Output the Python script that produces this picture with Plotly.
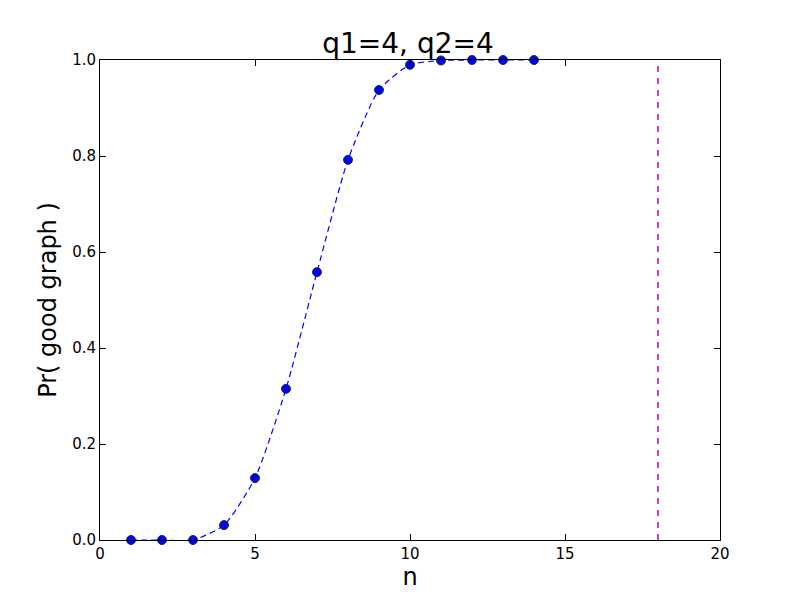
import plotly.graph_objects as go

n_values = [1, 2, 3, 4, 5, 6, 7, 8, 9, 10, 11, 12, 13, 14]
prob_values = [0.0, 0.0, 0.0, 0.031, 0.129, 0.315, 0.558, 0.792, 0.9375, 0.99, 0.999, 1.0, 1.0, 1.0]
threshold_n = 18
x_ticks = [0, 5, 10, 15, 20]
y_ticks = [0.0, 0.2, 0.4, 0.6, 0.8, 1.0]

fig = go.Figure()
fig.add_trace(go.Scatter(
    x=n_values, y=prob_values, mode="lines",
    line=dict(color="#0000ff", width=1.2, dash="6px,4px", shape="spline", smoothing=0.6),
    showlegend=False, hoverinfo="skip"))
fig.add_trace(go.Scatter(
    x=n_values, y=prob_values, mode="markers",
    marker=dict(color="#0000ff", size=9, line=dict(color="#1a3a1a", width=1)),
    showlegend=False, cliponaxis=False))
fig.add_trace(go.Scatter(
    x=[threshold_n, threshold_n], y=[0, 1], mode="lines",
    line=dict(color="#bf00bf", width=1.5, dash="6px,6px"),
    showlegend=False, hoverinfo="skip"))

axis_common = dict(
    showgrid=False, zeroline=False, showline=True, linecolor="black", linewidth=1,
    mirror="ticks", ticks="inside", ticklen=6, tickcolor="black", tickwidth=1,
    tickfont=dict(family="DejaVu Sans", size=15, color="black"),
)
fig.update_layout(
    width=800, height=600,
    margin=dict(l=92, r=88, t=52, b=68),
    paper_bgcolor="white", plot_bgcolor="white",
    title=dict(text="q1=4, q2=4", x=0.5, xanchor="center", y=0.942, yanchor="middle",
               font=dict(family="DejaVu Sans", size=28, color="black")),
    xaxis=dict(range=[0, 20], tickvals=x_ticks, ticktext=[str(t) for t in x_ticks],
               title=dict(text="n", font=dict(family="DejaVu Sans", size=24, color="black"), standoff=0),
               **axis_common),
    yaxis=dict(range=[0, 1], tickvals=y_ticks, ticktext=[f"{t:.1f}" for t in y_ticks],
               title=dict(text="Pr( good graph )", font=dict(family="DejaVu Sans", size=24, color="black"), standoff=8),
               **axis_common),
)
fig.write_html("out.html")
